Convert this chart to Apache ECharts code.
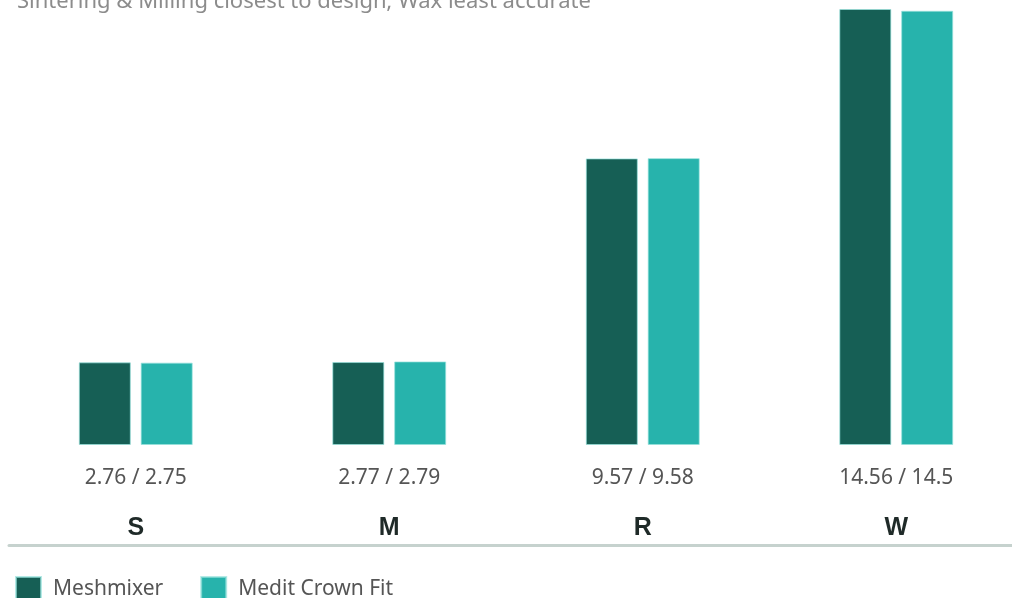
<!DOCTYPE html>
<html><head><meta charset="utf-8">
<script src="https://cdn.jsdelivr.net/npm/echarts@6/dist/echarts.min.js"></script>
<style>html,body{margin:0;padding:0;background:#fff}#c{width:1012px;height:598px}</style>
</head><body><div id="c"></div>
<script>
const categories = ['S', 'M', 'R', 'W'];
const meshmixer = [2.76, 2.77, 9.57, 14.56];
const meditCrownFit = [2.75, 2.79, 9.58, 14.5];
const seriesNames = ['Meshmixer', 'Medit Crown Fit'];
const subtitle = 'Sintering & Milling closest to design; Wax least accurate';

const chart = echarts.init(document.getElementById('c'));
chart.setOption({
  animation: false,
  title: {
    text: subtitle, left: 12, top: -14,
    textStyle: { fontFamily: 'Noto Sans', fontSize: 22, fontWeight: 'normal', color: '#8c8c8c' }
  },
  grid: { left: 9, right: -11, top: 9, bottom: 153, outerBoundsMode: 'none', containLabel: false },
  legend: {
    left: 15, top: 576, padding: 0, itemWidth: 25, itemHeight: 25, itemGap: 37, icon: 'rect',
    textStyle: { fontFamily: 'Noto Sans', fontSize: 21, color: '#555', padding: [0, 0, 0, 7] },
    data: seriesNames
  },
  xAxis: [{
    type: 'category', data: categories,
    axisLine: { show: false }, axisTick: { show: false },
    axisLabel: {
      margin: 7,
      formatter: (v, i) => `{v|${meshmixer[i]} / ${meditCrownFit[i]}}\n{c|${v}}`,
      rich: {
        v: { fontFamily: 'Noto Sans', fontSize: 21, color: '#555', lineHeight: 52 },
        c: { fontFamily: 'Liberation Sans', fontSize: 25, fontWeight: 'bold', color: '#1f2a28', lineHeight: 48 }
      }
    }
  }, {
    type: 'category', data: categories, position: 'bottom', offset: 100,
    axisLine: { show: true, lineStyle: { color: '#c6d2ce', width: 3 } },
    axisTick: { show: false }, axisLabel: { show: false }
  }],
  yAxis: { type: 'value', min: 0, max: 14.56, show: false, splitLine: { show: false } },
  series: [
    { name: seriesNames[0], type: 'bar', data: meshmixer, barWidth: 52, barGap: '19%',
      itemStyle: { color: '#165f55', borderColor: 'rgba(150,225,220,0.7)', borderWidth: 1 } },
    { name: seriesNames[1], type: 'bar', data: meditCrownFit, barWidth: 52,
      itemStyle: { color: '#27b3ac', borderColor: 'rgba(150,225,220,0.7)', borderWidth: 1 } }
  ]
});
</script></body></html>
